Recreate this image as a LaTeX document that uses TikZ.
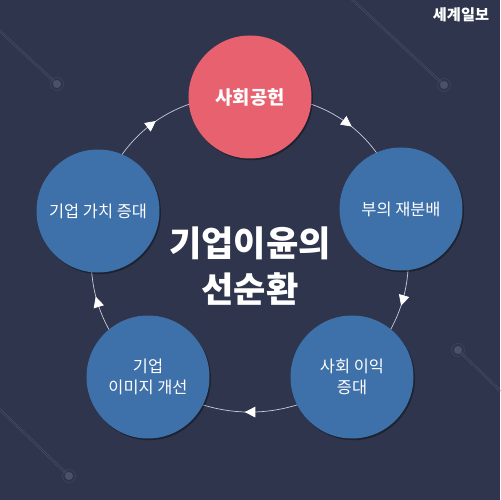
\documentclass[tikz,border=0pt]{standalone}
\usepackage{fontspec}
\setmainfont{Noto Sans CJK KR}
\usetikzlibrary{arrows.meta,decorations.markings,shadows}
\pgfdeclarelayer{background}
\pgfsetlayers{background,main}
\definecolor{bgnavy}{HTML}{2E354C}
\definecolor{stagered}{HTML}{E8616F}
\definecolor{stageblue}{HTML}{3E70A9}
\definecolor{streakgrey}{HTML}{4A5169}
\definecolor{flowgrey}{HTML}{C9CDD6}
\tikzset{
  midarrow/.style={
    decoration={
      markings,
      mark=at position 0.5 with {\arrow[white, xshift=4.5pt]{Triangle[length=9pt, width=9pt]}}
    },
    postaction={decorate}
  },
  flow/.style={draw=flowgrey, line width=0.6pt, midarrow},
  stage/.style={
    circle, minimum size=3.69cm, inner sep=0pt, align=center,
    text=white, font=\fontsize{14}{18}\selectfont,
    drop shadow={shadow xshift=1.2pt, shadow yshift=-1.4pt, opacity=0.35, fill=black}
  },
  streak/.style={draw=streakgrey, line width=0.5pt, double=bgnavy, double distance=0.9pt}
}

\begin{document}
\begin{tikzpicture}[x=0.03cm, y=0.03cm]
    \useasboundingbox (0,0) rectangle (500,500);

    % Stages of the cycle
    \node[stage, fill=stagered, font=\bfseries\fontsize{16}{19}\selectfont] (social) at (250,403) {사회공헌};
    \node[stage, fill=stageblue] (redist)  at (401,291) {부의 재분배};
    \node[stage, fill=stageblue] (benefit) at (352,123) {사회 이익\\증대};
    \node[stage, fill=stageblue] (image)   at (148,123) {기업\\이미지 개선};
    \node[stage, fill=stageblue] (value)   at (98,289)  {기업 가치 증대};

    % Title and brand
    \node[text=white, align=center, font=\bfseries\fontsize{30}{39}\selectfont] (title) at (250,234) {기업이윤의\\선순환};
    \node[text=white, font=\bfseries\fontsize{13}{15}\selectfont] (brand) at (461,485) {세계일보};

    \begin{pgfonlayer}{background}
      % Background
      \fill[bgnavy] (0,0) rectangle (500,500);

      % Decorative streaks
      \begin{scope}
        \clip (0,0) rectangle (500,500);
        \foreach \sx/\sy/\ex/\ey in {-10/478/57/416, 342/510/444/415, -10/100/69/24, 510/100/458/150} {
          \draw[streak] (\sx,\sy) -- (\ex,\ey);
          \fill[streakgrey] (\ex,\ey) circle (4);
          \draw[streakgrey!50!bgnavy, line width=0.6pt] (\ex,\ey) circle (6.5);
        }
      \end{scope}

      % Clockwise flow
      \draw[flow] (social.center)  to[bend left=42] (redist.center);
      \draw[flow] (redist.center)  to[bend left=32] (benefit.center);
      \draw[flow] (benefit.center) to[bend left=36] (image.center);
      \draw[flow] (image.center)   to[bend left=32] (value.center);
      \draw[flow] (value.center)   to[bend left=42] (social.center);
    \end{pgfonlayer}

\end{tikzpicture}
\end{document}
